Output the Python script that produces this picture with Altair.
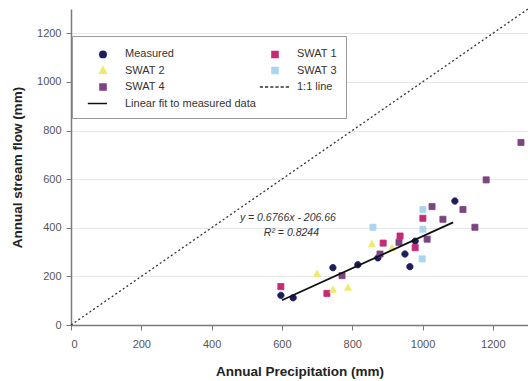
import altair as alt
import pandas as pd

# ---------------- data ----------------
# order chosen so the 2-column legend reads like the original
series_names = ["Measured", "SWAT 2", "SWAT 4", "Linear fit to measured data",
                "SWAT 1", "SWAT 3", "1:1 line"]
series_colors = ["#1d1d5e", "#eeea6c", "#7c4480", "#111111",
                 "#c52a72", "#a9d6ee", "#333333"]

measured_x = [597, 632, 745, 816, 873, 950, 964, 979, 1092]
measured_y = [122, 112, 236, 248, 276, 292, 240, 345, 510]

swat1_x = [597, 728, 888, 936, 979, 1001]
swat1_y = [158, 130, 337, 366, 318, 439]

swat2_x = [700, 745, 788, 856, 913]
swat2_y = [211, 146, 154, 333, 317]

swat3_x = [859, 1001, 1001, 999]
swat3_y = [402, 475, 394, 272]

swat4_x = [771, 879, 933, 1013, 1027, 1058, 1115, 1149, 1181, 1280]
swat4_y = [203, 292, 340, 353, 487, 435, 475, 402, 597, 751]

one_to_one_x = [0, 1300]
one_to_one_y = [0, 1300]

fit_x = [600, 1087]
fit_y = [102, 422]

equation_lines = ["y = 0.6766x - 206.66", "R² = 0.8244"]
equation_x = [617, 627]
equation_y = [440, 378]

tick_values = [0, 200, 400, 600, 800, 1000, 1200]

# ---------------- tables ----------------
rows = []
for name, xs, ys in [("Measured", measured_x, measured_y),
                     ("SWAT 1", swat1_x, swat1_y),
                     ("SWAT 2", swat2_x, swat2_y),
                     ("SWAT 3", swat3_x, swat3_y),
                     ("SWAT 4", swat4_x, swat4_y)]:
    for a, b in zip(xs, ys):
        rows.append({"series": name, "x": a, "y": b})
points_df = pd.DataFrame(rows)
one_df = pd.DataFrame({"x": one_to_one_x, "y": one_to_one_y})
fit_df = pd.DataFrame({"x": fit_x, "y": fit_y})
eq_df = pd.DataFrame({"t": equation_lines, "x": equation_x, "y": equation_y})

# symbol paths (unit = 8px with size 256)
circle = "M-0.4,0A0.4,0.4,0,1,0,0.4,0A0.4,0.4,0,1,0,-0.4,0Z"
square = "M-0.38,-0.38H0.38V0.38H-0.38Z"
triangle = "M0,-0.45L0.42,0.35L-0.42,0.35Z"
dotted = ("M-1.9,0L-1.5,0M-1.25,0L-0.85,0M-0.6,0L-0.2,0M0.05,0L0.45,0"
          "M0.7,0L1.1,0M1.35,0L1.75,0")
solid = "M-1.9,0L0.5,0"
series_shapes = [circle, triangle, square, solid, square, square, dotted]

X = alt.X("x:Q", title="Annual Precipitation (mm)",
          scale=alt.Scale(domain=[0, 1300], nice=False),
          axis=alt.Axis(values=tick_values, grid=False, format="d"))
Y = alt.Y("y:Q", title="Annual stream flow (mm)",
          scale=alt.Scale(domain=[0, 1300], nice=False),
          axis=alt.Axis(values=tick_values, grid=True, format="d"))

leg = alt.Legend(
    title=" ", titleOrient="left", titlePadding=13, titleFontSize=9,
    orient="none", legendX=1, legendY=27, columns=2,
    columnPadding=0, rowPadding=0.5, padding=9, symbolOffset=0,
    labelOffset=13, symbolSize=256, symbolStrokeWidth=1.5,
    labelFontSize=11, labelColor="#333333", labelFont="Liberation Sans",
    strokeColor="#9a9a9a", fillColor="white", symbolType="circle",
)

one_line = alt.Chart(one_df).mark_line(
    color="#333333", strokeDash=[2, 2.5], strokeWidth=1.3
).encode(x=X, y=Y)

fit_line = alt.Chart(fit_df).mark_line(
    color="#111111", strokeWidth=1.8
).encode(x=X, y=Y)

pts = alt.Chart(points_df).mark_point(
    filled=True, size=256, strokeWidth=0.8, opacity=1
).encode(
    x=X, y=Y,
    fill=alt.Fill("series:N", scale=alt.Scale(domain=series_names, range=series_colors), legend=leg),
    stroke=alt.Stroke("series:N", scale=alt.Scale(domain=series_names, range=series_colors), legend=leg),
    shape=alt.Shape("series:N", scale=alt.Scale(domain=series_names, range=series_shapes), legend=leg),
)

eq = alt.Chart(eq_df).mark_text(
    fontSize=10.5, color="#333333", font="Liberation Sans", fontStyle="italic"
).encode(x=X, y=Y, text="t:N")

chart = alt.layer(one_line, pts, fit_line, eq).properties(
    width=457, height=316,
    autosize=alt.AutoSizeParams(type="none"),
    padding={"left": 71, "top": 9, "right": 0, "bottom": 56},
).configure_view(stroke=None).configure_axis(
    domainColor="#7a7a7a", domainWidth=1.5, tickColor="#7a7a7a", tickSize=5,
    labelFont="Liberation Sans", labelFontSize=11, labelColor="#555555",
    titleFont="Liberation Sans", titleFontSize=13.5, titleFontWeight="bold",
    titleColor="#222222", gridColor="#e6e6e6", gridWidth=1,
).configure_axisX(labelPadding=8, titlePadding=15).configure_axisY(
    labelPadding=5, titlePadding=12
)

chart.save("out.html", embed_options={"renderer": "svg", "actions": False})
